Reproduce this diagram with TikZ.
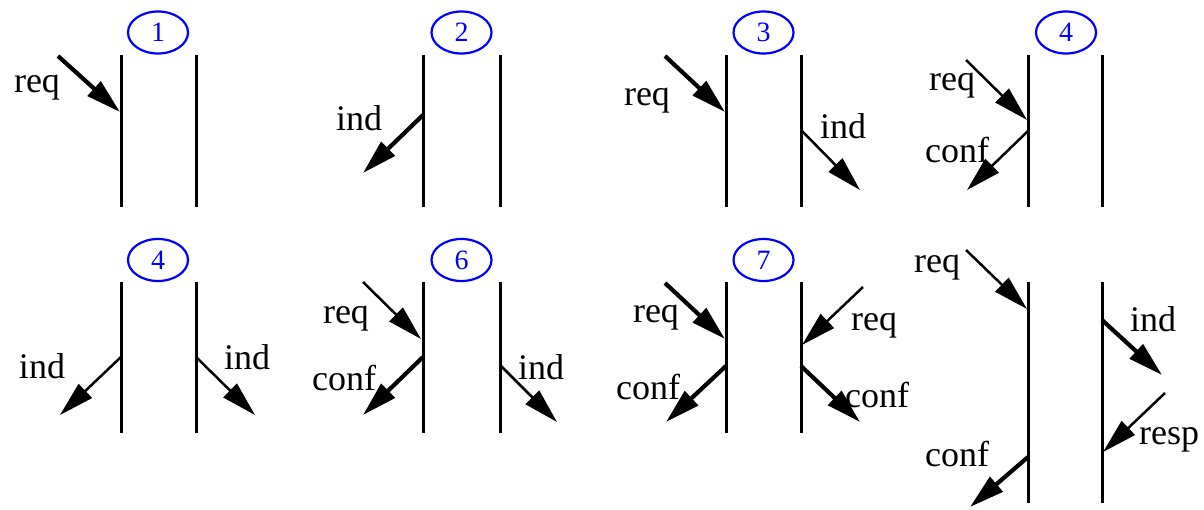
\documentclass[tikz,border=0pt]{standalone}
\usepackage{fontspec}
\setmainfont{Liberation Serif}
\usetikzlibrary{arrows.meta, shapes.geometric}
\tikzset{%
  stepnum/.style  = {draw = blue, line width = 2.2pt, ellipse, minimum width = 60pt,
    minimum height = 42pt, inner sep = 0pt, text = blue,
    font = \fontsize{28}{28}\selectfont}, % Step number
  sapline/.style  = {line width = 3pt}, % Layer boundary
  prim/.style     = {-{Triangle[length = 35pt, width = 19pt]}, line width = 2.5pt}, % Primitive
  primthick/.style = {prim, line width = 4.2pt},
  lbl/.style      = {inner sep = 0pt, font = \fontsize{36}{36}\selectfont}
}

\begin{document}
\begin{tikzpicture}[x = 1pt, y = -1pt]
\useasboundingbox (0,0) rectangle (1204,509);
%step numbers
\draw
	(158,32.5) node [stepnum] (n1) {1}
	(461.5,32.5) node [stepnum] (n2) {2}
	(763.5,32.5) node [stepnum] (n3) {3}
	(1066,32.5) node [stepnum] (n4) {4}
	(158,260) node [stepnum] (n5) {4}
	(461.5,260) node [stepnum] (n6) {6}
	(763.5,260) node [stepnum] (n7) {7};
%layer boundaries
\draw[sapline] (121,55) -- (121,207) (196,55) -- (196,207)
	(423,55) -- (423,207) (500,55) -- (500,207)
	(726,55) -- (726,207) (801,55) -- (801,207)
	(1028,55) -- (1028,207) (1102,55) -- (1102,207);
\draw[sapline] (121,282) -- (121,433) (196,282) -- (196,433)
	(423,282) -- (423,433) (500,282) -- (500,433)
	(726,282) -- (726,433) (801,282) -- (801,433)
	(1028,282) -- (1028,503) (1102,282) -- (1102,503);
%primitive end points
\coordinate (reqa) at (58,56);      \coordinate (reqaend) at (120,112);
\coordinate (indb) at (423,115);    \coordinate (indbend) at (363,173);
\coordinate (reqc) at (665,56);     \coordinate (reqcend) at (725,112);
\coordinate (indc) at (801,130);    \coordinate (indcend) at (860,190);
\coordinate (reqd) at (966,60);     \coordinate (reqdend) at (1027,120);
\coordinate (confd) at (1028,131);  \coordinate (confdend) at (967,190);
\coordinate (inde) at (121,357);    \coordinate (indeend) at (60,415);
\coordinate (indee) at (196,357);   \coordinate (indeeend) at (255,415);
\coordinate (reqf) at (363,282);    \coordinate (reqfend) at (421,339);
\coordinate (conff) at (423,357);   \coordinate (conffend) at (363,415);
\coordinate (indf) at (500,365);    \coordinate (indfend) at (557,422);
\coordinate (reqg) at (665,283);    \coordinate (reqgend) at (725,339);
\coordinate (confg) at (726,366);   \coordinate (confgend) at (666,422);
\coordinate (reqgg) at (863,287);   \coordinate (reqggend) at (802,345);
\coordinate (confgg) at (801,366);  \coordinate (confggend) at (860,422);
\coordinate (reqh) at (966,250);    \coordinate (reqhend) at (1027,309);
\coordinate (indh) at (1102,320);   \coordinate (indhend) at (1162,375);
\coordinate (resph) at (1165,393);  \coordinate (resphend) at (1103,452);
\coordinate (confh) at (1028,457);  \coordinate (confhend) at (970,507);
%primitives
\draw[primthick] (reqa) -- (reqaend);
\draw[primthick] (indb) -- (indbend);
\draw[primthick] (reqc) -- (reqcend);
\draw[prim] (indc) -- (indcend);
\draw[prim] (reqd) -- (reqdend);
\draw[prim] (confd) -- (confdend);
\draw[prim] (inde) -- (indeend);
\draw[prim] (indee) -- (indeeend);
\draw[prim] (reqf) -- (reqfend);
\draw[primthick] (conff) -- (conffend);
\draw[prim] (indf) -- (indfend);
\draw[primthick] (reqg) -- (reqgend);
\draw[primthick] (confg) -- (confgend);
\draw[prim] (reqgg) -- (reqggend);
\draw[primthick] (confgg) -- (confggend);
\draw[prim] (reqh) -- (reqhend);
\draw[primthick] (indh) -- (indhend);
\draw[prim] (resph) -- (resphend);
\draw[primthick] (confh) -- (confhend);
%primitive labels
\node[lbl] (lreqa) at (37,88) {req};
\node[lbl] (lindb) at (359,118) {ind};
\node[lbl] (lreqc) at (647,101) {req};
\node[lbl] (lindc) at (843,126) {ind};
\node[lbl] (lreqd) at (952,86) {req};
\node[lbl] (lconfd) at (957,150) {conf};
\node[lbl] (linde) at (42,366) {ind};
\node[lbl] (lindee) at (247,357) {ind};
\node[lbl] (lreqf) at (346,319) {req};
\node[lbl] (lconff) at (344,378) {conf};
\node[lbl] (lindf) at (541,367) {ind};
\node[lbl] (lreqg) at (656,318) {req};
\node[lbl] (lconfg) at (648,387) {conf};
\node[lbl] (lreqgg) at (874,326) {req};
\node[lbl] (lconfgg) at (877,395) {conf};
\node[lbl] (lreqh) at (937,268) {req};
\node[lbl] (lindh) at (1153,319) {ind};
\node[lbl] (lresph) at (1169,440) {resp};
\node[lbl] (lconfh) at (957,454) {conf};
\end{tikzpicture}
\end{document}
